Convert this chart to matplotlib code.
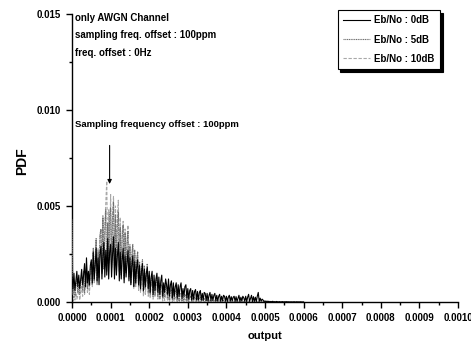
import numpy as np
import matplotlib
matplotlib.use("Agg")
import matplotlib.pyplot as plt
from matplotlib.ticker import MultipleLocator, FormatStrFormatter

plt.rcParams['font.family'] = ['Liberation Sans', 'DejaVu Sans']

# ---- data (PDF values in units of 1e-3, sampled every 2.5e-6 of "output") ----
PDF_UNIT = 1e-3
OUTPUT_STEP = 2.5e-6

pdf_0dB = [
    1.3, 0.7, 1.5, 0.6, 1.1, 1.6, 0.8, 1.4, 0.7, 1.2,
    1.7, 0.9, 1.4, 2.0, 0.8, 2.3, 1.0, 1.6, 0.9, 1.9,
    2.2, 1.0, 2.6, 1.2, 1.9, 2.8, 1.1, 2.3, 0.9, 2.5,
    2.9, 1.2, 2.4, 3.1, 1.3, 2.7, 1.4, 3.3, 1.2, 2.6,
    3.0, 1.3, 2.5, 3.4, 1.2, 2.8, 1.4, 2.4, 3.1, 1.1,
    2.6, 1.2, 2.2, 2.8, 1.0, 2.4, 1.3, 2.0, 2.7, 1.1,
    2.3, 0.9, 1.9, 2.4, 0.8, 2.1, 1.0, 1.8, 2.2, 0.9,
    1.9, 0.7, 1.6, 2.0, 0.6, 1.7, 0.8, 1.5, 1.8, 0.7,
    1.6, 0.5, 1.3, 1.6, 0.4, 1.4, 0.6, 1.2, 1.5, 0.5,
    1.3, 0.4, 1.1, 1.4, 0.3, 1.0, 0.5, 1.2, 0.9, 0.4,
    1.2, 0.3, 0.9, 1.1, 0.2, 1.0, 0.3, 0.8, 1.0, 0.2,
    0.9, 0.3, 0.8, 1.0, 0.2, 0.7, 0.3, 0.8, 0.9, 0.2,
    0.7, 0.15, 0.6, 0.7, 0.1, 0.6, 0.15, 0.55, 0.65, 0.1,
    0.55, 0.1, 0.5, 0.6, 0.1, 0.45, 0.1, 0.5, 0.45, 0.08,
    0.45, 0.05, 0.35, 0.5, 0.06, 0.4, 0.08, 0.35, 0.45, 0.05,
    0.35, 0.05, 0.3, 0.4, 0.04, 0.3, 0.06, 0.35, 0.3, 0.04,
    0.3, 0.03, 0.25, 0.35, 0.04, 0.28, 0.05, 0.25, 0.3, 0.03,
    0.28, 0.03, 0.2, 0.35, 0.02, 0.25, 0.04, 0.3, 0.22, 0.03,
    0.3, 0.02, 0.25, 0.4, 0.03, 0.2, 0.35, 0.02, 0.28, 0.03,
    0.25, 0.02, 0.3, 0.5, 0.03, 0.2, 0.04, 0.15, 0.1, 0.02,
    0.06, 0.01, 0.05, 0.02, 0.04, 0.0, 0.03, 0.01, 0.04, 0.0,
    0.02, 0.0, 0.03, 0.01, 0.0, 0.02, 0.0, 0.01, 0.02, 0.0,
    0.01, 0.0, 0.02, 0.0, 0.01, 0.0, 0.0, 0.01, 0.0, 0.0,
    0.01, 0.0, 0.0, 0.01, 0.0, 0.0, 0.0, 0.01, 0.0, 0.0,
    0.0,
]

pdf_5dB = [
    4.3, 0.4, 1.0, 0.3, 0.8, 1.2, 0.5, 0.9, 0.4, 1.1,
    1.3, 0.6, 1.6, 0.5, 1.2, 1.8, 0.7, 1.5, 0.8, 1.7,
    2.1, 0.9, 2.8, 1.1, 2.4, 3.3, 1.0, 2.6, 1.3, 3.5,
    3.8, 1.5, 4.4, 1.7, 3.6, 4.8, 1.6, 4.1, 2.0, 4.6,
    4.9, 1.8, 4.2, 5.2, 1.7, 4.5, 2.0, 3.9, 4.7, 1.6,
    3.9, 1.4, 3.4, 4.0, 1.2, 3.6, 1.5, 3.0, 3.7, 1.3,
    2.9, 1.0, 2.5, 3.0, 0.8, 2.7, 0.9, 2.2, 2.6, 0.8,
    2.1, 0.6, 1.8, 2.2, 0.5, 1.9, 0.7, 1.5, 2.0, 0.5,
    1.4, 0.4, 1.2, 1.3, 0.3, 1.1, 0.4, 1.0, 1.3, 0.3,
    1.0, 0.2, 0.8, 0.9, 0.2, 0.7, 0.25, 0.8, 0.9, 0.2,
    0.7, 0.1, 0.6, 0.65, 0.1, 0.5, 0.15, 0.55, 0.6, 0.1,
    0.5, 0.05, 0.4, 0.45, 0.05, 0.35, 0.08, 0.4, 0.3, 0.05,
    0.3, 0.02, 0.25, 0.3, 0.03, 0.2, 0.04, 0.25, 0.15, 0.02,
    0.2, 0.02, 0.18, 0.25, 0.01, 0.15, 0.03, 0.2, 0.12, 0.02,
    0.15, 0.0, 0.1, 0.12, 0.01, 0.08, 0.02, 0.1, 0.08, 0.0,
    0.1, 0.0, 0.08, 0.1, 0.0, 0.06, 0.01, 0.08, 0.05, 0.0,
    0.05, 0.0, 0.04, 0.06, 0.0, 0.03, 0.0, 0.05, 0.03, 0.0,
    0.04, 0.0, 0.03, 0.05, 0.0, 0.02, 0.0, 0.04, 0.02, 0.0,
    0.03, 0.0, 0.02, 0.04, 0.0, 0.02, 0.0, 0.03, 0.01, 0.0,
    0.02, 0.0, 0.02, 0.03, 0.0, 0.01, 0.0, 0.02, 0.01, 0.0,
    0.01, 0.0, 0.01, 0.0, 0.02, 0.0, 0.0, 0.01, 0.0, 0.0,
    0.0, 0.01, 0.0, 0.0, 0.01, 0.0, 0.0, 0.0, 0.01, 0.0,
    0.0, 0.0, 0.01, 0.0, 0.0, 0.0, 0.0, 0.0, 0.0, 0.0,
    0.0, 0.0, 0.0, 0.0, 0.0, 0.0, 0.0, 0.0, 0.0, 0.0,
    0.0,
]

pdf_10dB = [
    0.4, 0.05, 0.3, 0.1, 0.5, 0.15, 0.35, 0.6, 0.1, 0.5,
    0.8, 0.3, 1.1, 0.4, 0.9, 1.4, 0.5, 1.2, 0.4, 1.3,
    2.0, 0.8, 2.6, 1.0, 2.2, 3.2, 0.9, 2.8, 1.2, 3.5,
    3.8, 1.5, 4.5, 1.8, 4.0, 5.2, 6.3, 2.0, 4.8, 2.2,
    5.6, 2.1, 4.6, 5.5, 1.9, 5.0, 2.4, 4.5, 5.3, 1.8,
    4.4, 1.5, 3.6, 4.2, 1.3, 3.8, 1.6, 3.2, 4.0, 1.2,
    3.0, 0.9, 2.4, 2.8, 0.7, 2.5, 0.8, 2.0, 2.6, 0.6,
    1.8, 0.5, 1.4, 1.7, 0.3, 1.5, 0.4, 1.2, 1.6, 0.3,
    1.1, 0.2, 0.9, 1.0, 0.15, 0.8, 0.25, 0.7, 0.9, 0.15,
    0.6, 0.1, 0.5, 0.55, 0.05, 0.45, 0.08, 0.4, 0.5, 0.05,
    0.3, 0.02, 0.25, 0.3, 0.02, 0.2, 0.03, 0.25, 0.15, 0.02,
    0.2, 0.0, 0.15, 0.2, 0.01, 0.12, 0.02, 0.15, 0.1, 0.0,
    0.08, 0.0, 0.06, 0.05, 0.0, 0.04, 0.0, 0.05, 0.03, 0.0,
    0.04, 0.0, 0.03, 0.04, 0.0, 0.02, 0.0, 0.03, 0.02, 0.0,
    0.02, 0.0, 0.01, 0.02, 0.0, 0.01, 0.0, 0.02, 0.01, 0.0,
    0.01, 0.0, 0.0, 0.01, 0.0, 0.0, 0.0, 0.01, 0.0, 0.0,
    0.0, 0.0, 0.01, 0.0, 0.0, 0.0, 0.0, 0.0, 0.0, 0.0,
    0.0, 0.0, 0.0, 0.0, 0.0, 0.0, 0.0, 0.0, 0.0, 0.0,
    0.0, 0.0, 0.0, 0.0, 0.0, 0.0, 0.0, 0.0, 0.0, 0.0,
    0.0, 0.0, 0.0, 0.0, 0.0, 0.0, 0.0, 0.0, 0.0, 0.0,
    0.0, 0.0, 0.0, 0.0, 0.0, 0.0, 0.0, 0.0, 0.0, 0.0,
    0.0, 0.0, 0.0, 0.0, 0.0, 0.0, 0.0, 0.0, 0.0, 0.0,
    0.0, 0.0, 0.0, 0.0, 0.0, 0.0, 0.0, 0.0, 0.0, 0.0,
    0.0, 0.0, 0.0, 0.0, 0.0, 0.0, 0.0, 0.0, 0.0, 0.0,
    0.0,
]

series_labels = ["Eb/No : 0dB", "Eb/No : 5dB", "Eb/No : 10dB"]
info_lines = ["only AWGN Channel", "sampling freq. offset : 100ppm", "freq. offset : 0Hz"]
annotation_text = "Sampling frequency offset : 100ppm"

output = np.arange(len(pdf_0dB)) * OUTPUT_STEP

fig = plt.figure(figsize=(4.71, 3.43), dpi=100)
ax = fig.add_axes([0.1529, 0.1195, 0.8195, 0.8397])

ax.plot(output, np.array(pdf_10dB) * PDF_UNIT, color='#a8a8a8', lw=0.8,
        ls=(0, (3, 1.5)), label=series_labels[2], zorder=2)
ax.plot(output, np.array(pdf_5dB) * PDF_UNIT, color='#6e6e6e', lw=0.8,
        ls=(0, (1, 0.6)), label=series_labels[1], zorder=3)
ax.plot(output, np.array(pdf_0dB) * PDF_UNIT, color='black', lw=0.8,
        ls='-', label=series_labels[0], zorder=4)

ax.set_xlim(0, 0.001)
ax.set_ylim(0, 0.015)

for s in ['top', 'right']:
    ax.spines[s].set_visible(False)
for s in ['left', 'bottom']:
    ax.spines[s].set_linewidth(1.0)

ax.xaxis.set_major_locator(MultipleLocator(0.0001))
ax.xaxis.set_minor_locator(MultipleLocator(0.00005))
ax.yaxis.set_major_locator(MultipleLocator(0.005))
ax.yaxis.set_minor_locator(MultipleLocator(0.0025))
ax.xaxis.set_major_formatter(FormatStrFormatter('%.4f'))
ax.yaxis.set_major_formatter(FormatStrFormatter('%.3f'))
ax.tick_params(which='major', direction='out', length=4, width=1, labelsize=7, pad=4)
ax.tick_params(which='minor', direction='out', length=2, width=1)
for lab in ax.get_xticklabels() + ax.get_yticklabels():
    lab.set_fontweight('bold')

ax.set_xlabel('output', fontsize=8, fontweight='bold', va='center')
ax.xaxis.set_label_coords(0.5, -0.118)
ax.set_ylabel('PDF', fontsize=10, fontweight='bold')
ax.yaxis.set_label_coords(-0.11, 0.49)

for k, t in enumerate(info_lines):
    ax.text(0.000008, 0.01479 - k * 0.00091, t, fontsize=7, fontweight='bold',
            va='center', ha='left')

ax.text(0.000008, 0.00927, annotation_text, fontsize=6.8, fontweight='bold',
        va='center', ha='left')
ax.annotate('', xy=(0.0000974, 0.0060), xytext=(0.0000974, 0.0083),
            arrowprops=dict(arrowstyle='-|>', color='black', lw=0.8,
                            mutation_scale=6))

handles, labels = ax.get_legend_handles_labels()
order = [2, 1, 0]
leg = ax.legend([handles[i] for i in order], [labels[i] for i in order],
                loc='upper right', bbox_to_anchor=(0.953, 1.014), borderaxespad=0,
                fancybox=False, edgecolor='black', framealpha=1,
                shadow={'color': 'black', 'alpha': 1},
                prop={'size': 7, 'weight': 'bold'}, handlelength=2.8,
                handletextpad=0.4, labelspacing=0.95, borderpad=0.55)
leg.get_frame().set_linewidth(0.8)

fig.savefig('out.png', dpi=100)
